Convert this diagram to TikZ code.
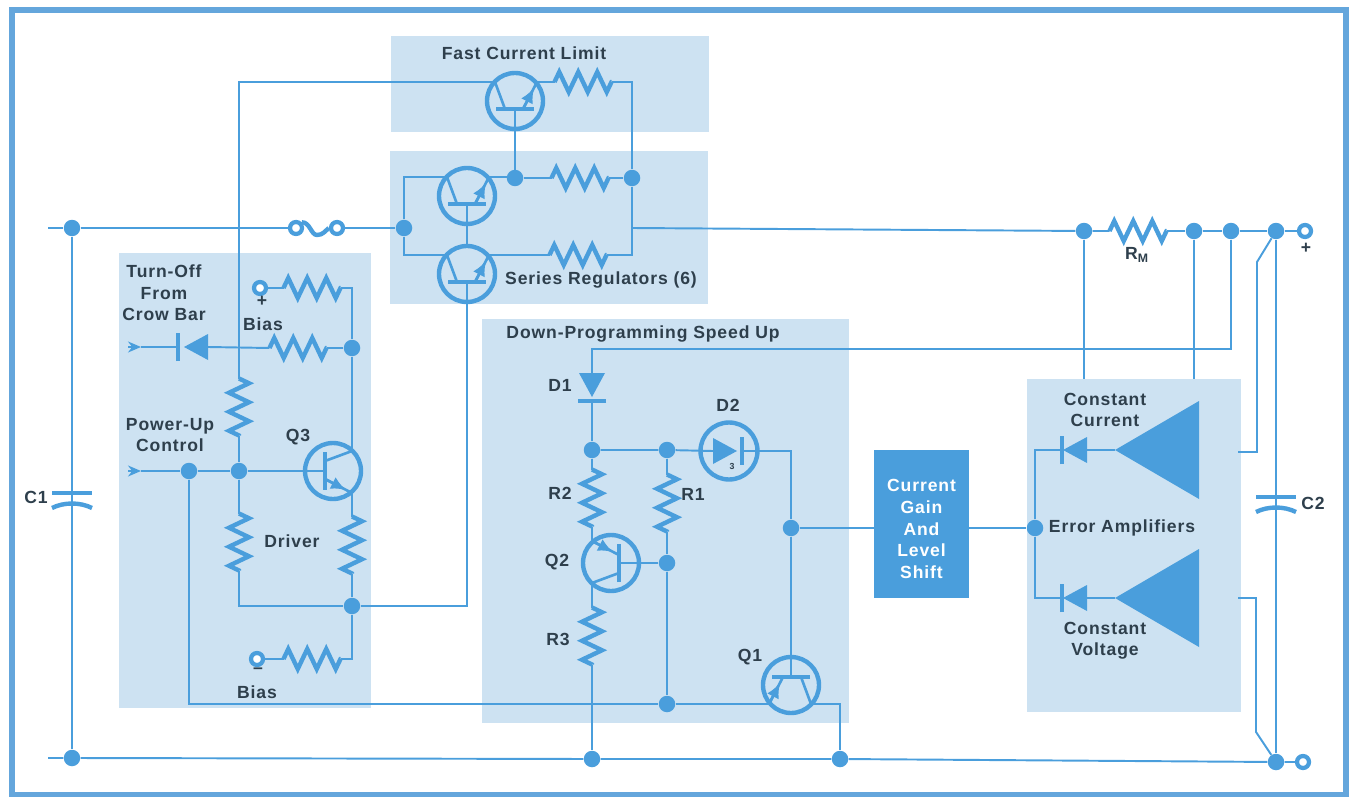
\documentclass[tikz,border=0pt]{standalone}
\usepackage{fontspec}
\setmainfont{Liberation Sans}[LetterSpace=5]
\usetikzlibrary{arrows.meta,decorations.pathmorphing}
\definecolor{lineblue}{HTML}{4A9EDC}
\definecolor{frameblue}{HTML}{64A6DC}
\definecolor{paleblue}{HTML}{CDE2F2}
\definecolor{inkgray}{HTML}{2E3F4C}
\newcommand{\trbody}{%
	\draw[symb] (0,0) circle (28);
	\draw[symb] (-19,8) -- (19,8);
	\draw[wire] (0,8) -- (0,28);
	\draw[inner] (-20,-19) -- (-10,8);
	\coordinate (-c) at (-20,-19);
	\coordinate (-e) at (22,-19);
	\coordinate (-b) at (0,28);
	\coordinate (-n) at (0,-28);
}
\begin{document}
\begin{tikzpicture}
	[x=0.02cm,y=-0.02cm,
	wire/.style={draw=lineblue,line width=1.1pt},
	inner/.style={draw=lineblue,line width=1.5pt},
	symb/.style={draw=lineblue,line width=2.5pt},
	dot/.style={circle,fill=lineblue,inner sep=0pt,minimum size=0.33cm},
	term/.style={circle,draw=lineblue,fill=white,line width=2.4pt,inner sep=0pt,minimum size=0.24cm},
	block/.style={fill=paleblue},
	txt/.style={text=inkgray,font=\fontsize{10}{10.5}\selectfont\bfseries,align=center,inner sep=0pt},
	npn/.pic={\trbody
		\draw[inner] (8,8) -- (22,-19);
		\draw[inner,-{Latex[length=0.3cm,width=0.26cm]}] (8,8) -- (19,-13);},
	pnp/.pic={\trbody
		\draw[inner] (8,8) -- (22,-19);
		\draw[inner,-{Latex[length=0.3cm,width=0.26cm]}] (22,-19) -- (11,2);},
	res/.pic={
		\draw[symb,decorate,decoration={zigzag,segment length=0.38cm,amplitude=0.2cm}] (-28.5,0) -- (28.5,0);
		\coordinate (-a) at (-28.5,0);
		\coordinate (-b) at (28.5,0);},
	diode/.pic={
		\fill[lineblue] (-12,-13) -- (-12,13) -- (12,0) -- cycle;
		\draw[symb] (#1,-14) -- (#1,14);
		\coordinate (-a) at (-12,0);
		\coordinate (-b) at (#1,0);},
	capac/.pic={
		\draw[symb] (-20,-6) -- (20,-6);
		\draw[symb] (-20,9) .. controls (-8,3) and (8,3) .. (20,9);
		\coordinate (-a) at (0,-6);
		\coordinate (-b) at (0,5);},
	ampl/.pic={
		\fill[lineblue] (0,0) -- (84,-49) -- (84,49) -- cycle;
		\coordinate (-t) at (0,0);}]
	\useasboundingbox (0,0) rectangle (1349,797);
	\draw[frameblue,line width=3pt] (12,10) rectangle (1346,795);
	\fill[block] (391,36) rectangle (709,132);
	\fill[block] (390,151) rectangle (708,304);
	\fill[block] (119,253) rectangle (371,708);
	\fill[block] (482,319) rectangle (849,723);
	\fill[block] (1027,379) rectangle (1241,712);
	\node[fill=lineblue,minimum width=1.9cm,minimum height=2.96cm,inner sep=0pt] (gainbox) at (921.5,524) {};
	\node[text=white,font=\fontsize{10}{12.3}\selectfont\bfseries,align=center,inner sep=0pt] (lgain) at (921.5,529)
		{Current\\Gain\\And\\Level\\Shift};

	\coordinate (railin) at (48,228);
	\coordinate (gndin) at (48,758);
	\coordinate (railmid) at (632,228);
	\coordinate (crowin) at (128,347);
	\coordinate (crowtip) at (141,347);
	\coordinate (powerin) at (128,471);
	\coordinate (powertip) at (141,471);
	\coordinate (dntop) at (592,349);
	\coordinate (kneetop) at (1257,262);
	\coordinate (kneeamp) at (1238,452);
	\coordinate (kneebot) at (1256,732);
	\coordinate (kneevolt) at (1238,598);
	\coordinate (cctop) at (1084,379);
	\coordinate (cvtop) at (1194,379);

	\node[dot] (railc) at (72,228) {};
	\node[dot] (gndc) at (72,758) {};
	\node[dot] (railq) at (404,228) {};
	\node[dot] (emq) at (515,178) {};
	\node[dot] (sumq) at (632,178) {};
	\node[dot] (sense) at (1084,231) {};
	\node[dot] (rmout) at (1194,231) {};
	\node[dot] (spdup) at (1231,231) {};
	\node[dot] (outp) at (1276,231) {};
	\node[dot] (gnda) at (592,759) {};
	\node[dot] (gndb) at (840,759) {};
	\node[dot] (gndd) at (1276,762) {};
	\node[dot] (crowj) at (352,348) {};
	\node[dot] (basej) at (239,471) {};
	\node[dot] (powerj) at (189,471) {};
	\node[dot] (drvj) at (352,606) {};
	\node[dot] (donea) at (592,450) {};
	\node[dot] (dtwoa) at (667,450) {};
	\node[dot] (sumb) at (791,528) {};
	\node[dot] (qtwob) at (667,563) {};
	\node[dot] (qoneb) at (667,704) {};
	\node[dot] (errj) at (1035,528) {};
	\node[term] (termp) at (1305,231) {};
	\node[term] (termn) at (1303,762) {};
	\node[term] (biasp) at (260,288) {};
	\node[term] (biasm) at (257,659) {};
	\node[term] (fusea) at (296,228) {};
	\node[term] (fuseb) at (337,228) {};
	\node[draw=lineblue,line width=2.5pt,circle,inner sep=0pt,minimum size=1.14cm] (dtwo) at (729,451) {};

	\pic (qfast) at (515,101) {npn};
	\pic (qsera) at (467,196) {npn};
	\pic (qserb) at (467,274) {npn};
	\pic[rotate=-90] (qthree) at (333,471) {npn};
	\pic[rotate=90] (qtwo) at (611,563) {pnp};
	\pic[rotate=180] (qone) at (791,685) {pnp};

	\pic (rfast) at (583,82) {res};
	\pic (rsera) at (580,178) {res};
	\pic (rserb) at (578,255) {res};
	\pic (rbiasp) at (312,288) {res};
	\pic (rcrow) at (298,348) {res};
	\pic (rbiasm) at (312,659) {res};
	\pic[rotate=-90] (rtop) at (239,407) {res};
	\pic[rotate=-90] (rbot) at (239,542) {res};
	\pic[rotate=-90] (remit) at (352,545) {res};
	\pic[rotate=-90] (rtwo) at (592,498) {res};
	\pic[rotate=-90] (rone) at (667,503) {res};
	\pic[rotate=-90] (rthree) at (592,636) {res};
	\pic (rm) at (1138,231) {res};

	\pic[rotate=180] (dcrow) at (196,347) {diode=18};
	\pic[rotate=-90] (done) at (592,385) {diode=16};
	\pic (dtwod) at (725,451) {diode=17};
	\pic[rotate=180] (dcur) at (1075,450) {diode=13};
	\pic[rotate=180] (dvolt) at (1075,598) {diode=13};
	\pic (ampc) at (1115,450) {ampl};
	\pic (ampv) at (1115,598) {ampl};
	\pic (cone) at (72,499) {capac};
	\pic (ctwo) at (1276,503) {capac};

	\draw[wire] (railin) -- (railc) -- (fusea);
	\draw[wire] (fuseb) -- (railq);
	\draw[symb] (fusea.north east) .. controls (310,222) and (311,235) .. (317,235)
		.. controls (323,235) and (325,231) .. (fuseb.west);
	\draw[wire] (railmid) -- (sense) -- (rm-a);
	\draw[wire] (rm-b) -- (rmout) -- (spdup) -- (outp) -- (termp);
	\draw[wire] (railc) -- (cone-a) -- (cone-b) -- (gndc);
	\draw[wire] (gndin) -- (gndc) -- (gnda) -- (gndb) -- (gndd) -- (termn);
	\draw[wire] (outp) -- (ctwo-a) -- (ctwo-b) -- (gndd);
	\draw[wire] (rtop-a) |- (qfast-c);
	\draw[wire] (qfast-e) -- (rfast-a);
	\draw[wire] (rfast-b) -| (sumq);
	\draw[wire] (qfast-b) -- (emq);
	\draw[wire] (railq) |- (qsera-c);
	\draw[wire] (railq) |- (qserb-c);
	\draw[wire] (qsera-e) -- (emq |- qsera-e) -- (emq) -- (rsera-a);
	\draw[wire] (rsera-b) -- (sumq) |- (rserb-b);
	\draw[wire] (qserb-e) -- (rserb-a);
	\draw[wire] (qsera-b) -- (qserb-n);
	\draw[wire] (qserb-b) |- (drvj);
	\draw[wire] (biasp) -- (rbiasp-a);
	\draw[wire] (rbiasp-b) -| (crowj);
	\draw[wire] (crowj) -- (rcrow-b);
	\draw[wire] (rcrow-a) -- (dcrow-a);
	\draw[wire] (dcrow-b) -- (crowtip);
	\draw[wire,-{Stealth[length=0.26cm,width=0.22cm]}] (crowin) -- (crowtip);
	\draw[wire] (crowj) -- (qthree-c);
	\draw[wire] (qthree-e) -- (remit-a);
	\draw[wire] (remit-b) -- (drvj);
	\draw[wire] (rtop-b) -- (basej) -- (rbot-a);
	\draw[wire] (rbot-b) |- (drvj);
	\draw[wire] (drvj) |- (rbiasm-b);
	\draw[wire] (rbiasm-a) -- (biasm);
	\draw[wire,-{Stealth[length=0.26cm,width=0.22cm]}] (powerin) -- (powertip);
	\draw[wire] (powertip) -- (powerj) -- (basej) -- (qthree-b);
	\draw[wire] (powerj) |- (qoneb);
	\draw[wire] (qoneb) -- (qone-e);
	\draw[wire] (qone-c) -| (gndb);
	\draw[wire] (spdup) |- (dntop) -- (done-a);
	\draw[wire] (done-b) -- (donea) -- (rtwo-a);
	\draw[wire] (donea) -- (dtwoa) -- (dtwod-a);
	\draw[wire] (dtwoa) -- (rone-a);
	\draw[wire] (rone-b) -- (qtwob) -- (qoneb);
	\draw[wire] (qtwob) -- (qtwo-b);
	\draw[wire] (rtwo-b) -- (qtwo-e);
	\draw[wire] (qtwo-c) -- (rthree-a);
	\draw[wire] (rthree-b) -- (gnda);
	\draw[wire] (dtwod-b) -| (sumb);
	\draw[wire] (sumb) -- (qone-b);
	\draw[wire] (sumb) -- (sumb -| gainbox.west);
	\draw[wire] (gainbox.east |- errj) -- (errj);
	\draw[wire] (errj) |- (dcur-b);
	\draw[wire] (errj) |- (dvolt-b);
	\draw[wire] (dcur-a) -- (ampc-t);
	\draw[wire] (dvolt-a) -- (ampv-t);
	\draw[wire] (sense) -- (cctop);
	\draw[wire] (rmout) -- (cvtop);
	\draw[wire] (outp) -- (kneetop) |- (kneeamp);
	\draw[wire] (kneevolt) -| (kneebot) -- (gndd);

	\node[txt] (lfast) at (524,53) {Fast Current Limit};
	\node[txt] (lser) at (601,280) {Series Regulators (6)};
	\node[txt] (lcrow) at (164,293) {Turn-Off\\[1.7pt]From\\[1.7pt]Crow Bar};
	\node[txt] (lbiasp) at (263,324) {Bias};
	\node[txt] (lplus) at (262,301) {+};
	\node[txt] (lminus) at (258,671) {--};
	\node[txt] (lbiasm) at (257,692) {Bias};
	\node[txt] (lpower) at (170,435) {Power-Up\\[1.7pt]Control};
	\node[txt] (lqthree) at (298,437) {Q3};
	\node[txt] (ldriver) at (292,541) {Driver};
	\node[txt] (ldown) at (643,334) {Down-Programming Speed Up};
	\node[txt] (ldone) at (560,385) {D1};
	\node[txt] (ldtwo) at (728,405) {D2};
	\node[txt,font=\fontsize{5}{6}\selectfont\bfseries] (lthree) at (732,466) {3};
	\node[txt] (lrtwo) at (560,493) {R2};
	\node[txt] (lrone) at (693,494) {R1};
	\node[txt] (lqtwo) at (557,562) {Q2};
	\node[txt] (lrthree) at (558,639) {R3};
	\node[txt] (lqone) at (750,657) {Q1};
	\node[txt] (lcone) at (36,497) {C1};
	\node[txt] (lctwo) at (1313,503) {C2};
	\node[txt] (lrm) at (1137,255) {R\textsubscript{M}};
	\node[txt] (lplusout) at (1306,248) {+};
	\node[txt] (lcc) at (1105,410) {Constant\\[1.7pt]Current};
	\node[txt] (lerr) at (1122,528) {Error Amplifiers};
	\node[txt] (lcv) at (1105,641) {Constant\\[1.7pt]Voltage};
\end{tikzpicture}
\end{document}
